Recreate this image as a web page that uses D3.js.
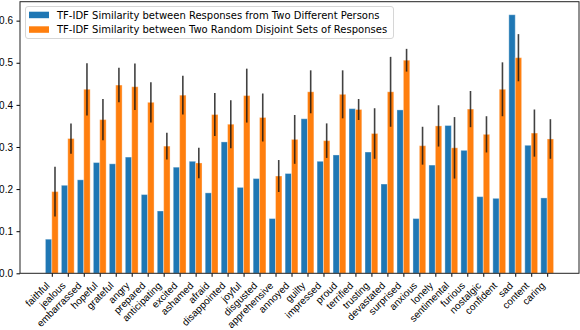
<!DOCTYPE html>
<html>
<head>
<meta charset="utf-8">
<script src="https://cdn.jsdelivr.net/npm/d3@7"></script>
<style>
  body { margin: 0; background: #fff; }
  svg { display: block; font-family: "DejaVu Sans", sans-serif; }
  .tick text { font-size: 10px; fill: #000; }
</style>
</head>
<body>
<svg width="580" height="330"></svg>
<script>
const categories = ['faithful', 'jealous', 'embarrassed', 'hopeful', 'grateful', 'angry', 'prepared',
    'anticipating', 'excited', 'ashamed', 'afraid', 'disappointed', 'joyful', 'disgusted', 'apprehensive',
    'annoyed', 'guilty', 'impressed', 'proud', 'terrified', 'trusting', 'devastated', 'surprised',
    'anxious', 'lonely', 'sentimental', 'furious', 'nostalgic', 'confident', 'sad', 'content', 'caring'];

const personSim = [0.081, 0.209, 0.222, 0.263, 0.260, 0.276, 0.187, 0.148, 0.252, 0.266, 0.191,
    0.312, 0.204, 0.225, 0.130, 0.237, 0.367, 0.266, 0.281, 0.391, 0.288, 0.212, 0.388,
    0.130, 0.257, 0.351, 0.292, 0.182, 0.178, 0.614, 0.304, 0.179];

const randomSim = [0.194, 0.320, 0.437, 0.365, 0.447, 0.443, 0.406, 0.302, 0.423, 0.262, 0.377,
    0.354, 0.422, 0.370, 0.231, 0.318, 0.431, 0.315, 0.425, 0.389, 0.332, 0.431, 0.506,
    0.303, 0.350, 0.298, 0.390, 0.330, 0.437, 0.512, 0.333, 0.319];

const randomErr = [0.059, 0.036, 0.062, 0.049, 0.041, 0.055, 0.048, 0.032, 0.046, 0.036, 0.051,
    0.057, 0.064, 0.057, 0.038, 0.058, 0.051, 0.041, 0.057, 0.025, 0.060, 0.083, 0.027,
    0.045, 0.049, 0.073, 0.043, 0.043, 0.064, 0.056, 0.056, 0.047];

const yTicks = [0.0, 0.1, 0.2, 0.3, 0.4, 0.5, 0.6];

const seriesNames = ['TF-IDF Similarity between Responses from Two Different Persons',
    'TF-IDF Similarity between Two Random Disjoint Sets of Responses'];
const colors = ['#1f77b4', '#ff7f0e'];

const plotLeft = 20, plotRight = 579, plotTop = 1.7, plotBottom = 273.3;
const barW = 0.4;
const pad = 0.05 * (categories.length - 1 + 2 * barW);

const svg = d3.select('svg');

const x = d3.scaleLinear()
    .domain([-barW - pad, categories.length - 1 + barW + pad])
    .range([plotLeft, plotRight]);

const y = d3.scaleLinear()
    .domain([0, 0.645])
    .range([plotBottom, plotTop]);

const idx = d3.range(categories.length);

// blue bars
svg.append('g').selectAll('rect').data(idx)
    .enter().append('rect')
    .attr('x', function(i) { return x(i - barW); })
    .attr('width', x(barW) - x(0))
    .attr('y', function(i) { return y(personSim[i]); })
    .attr('height', function(i) { return plotBottom - y(personSim[i]); })
    .attr('fill', colors[0])
    .attr('stroke', 'rgba(255,255,255,0.35)')
    .attr('stroke-width', 1);

// orange bars
svg.append('g').selectAll('rect').data(idx)
    .enter().append('rect')
    .attr('x', function(i) { return x(i); })
    .attr('width', x(barW) - x(0))
    .attr('y', function(i) { return y(randomSim[i]); })
    .attr('height', function(i) { return plotBottom - y(randomSim[i]); })
    .attr('fill', colors[1])
    .attr('stroke', 'rgba(255,255,255,0.35)')
    .attr('stroke-width', 1);

// error bars
svg.append('g').selectAll('line').data(idx)
    .enter().append('line')
    .attr('x1', function(i) { return x(i + barW / 2); })
    .attr('x2', function(i) { return x(i + barW / 2); })
    .attr('y1', function(i) { return y(randomSim[i] - randomErr[i]); })
    .attr('y2', function(i) { return y(randomSim[i] + randomErr[i]); })
    .attr('stroke', '#111')
    .attr('stroke-opacity', 0.8)
    .attr('stroke-width', 1.6);

// y axis
const yAxis = svg.append('g')
    .attr('transform', `translate(${plotLeft}, 0)`)
    .call(d3.axisLeft(y).tickValues(yTicks).tickFormat(d3.format('.1f')).tickSize(3.5).tickPadding(3.5));
yAxis.select('.domain').remove();

// x axis
const xAxis = svg.append('g')
    .attr('transform', `translate(0, ${plotBottom})`)
    .call(d3.axisBottom(x).tickValues(idx).tickSize(3.5).tickFormat(function(i) { return categories[i]; }));
xAxis.select('.domain').remove();
xAxis.selectAll('.tick text')
    .attr('text-anchor', 'end')
    .attr('y', 0)
    .attr('dy', 0)
    .attr('transform', 'translate(-2, 13) rotate(-45)');

// frame
svg.append('rect')
    .attr('x', plotLeft)
    .attr('y', plotTop)
    .attr('width', plotRight - plotLeft)
    .attr('height', plotBottom - plotTop)
    .attr('fill', 'none')
    .attr('stroke', '#222')
    .attr('stroke-width', 1);

// legend
const legend = svg.append('g').attr('class', 'legend');
legend.append('rect')
    .attr('x', 25.5)
    .attr('y', 6.5)
    .attr('width', 368)
    .attr('height', 32)
    .attr('rx', 2.5)
    .attr('fill', 'rgba(255,255,255,0.8)')
    .attr('stroke', '#d6d6d6');

const item = legend.selectAll('.item').data(seriesNames)
    .enter().append('g')
    .attr('class', 'item')
    .attr('transform', function(d, i) { return `translate(29, ${11.7 + i * 14.6})`; });

item.append('rect')
    .attr('width', 20)
    .attr('height', 6.5)
    .attr('fill', function(d, i) { return colors[i]; });

item.append('text')
    .attr('x', 28)
    .attr('y', 6.8)
    .attr('font-size', '10px')
    .text(function(d) { return d; });
</script>
</body>
</html>
